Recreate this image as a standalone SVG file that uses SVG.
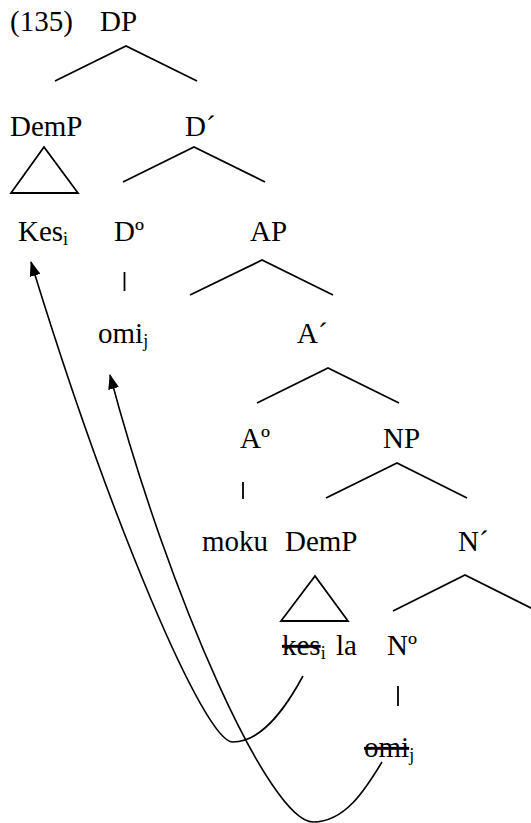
<svg xmlns="http://www.w3.org/2000/svg" width="531" height="823" viewBox="0 0 531 823">
  <style>
    text { font-family: "Liberation Serif", "DejaVu Serif", "Times New Roman", serif; font-size: 29px; fill: #000; }
    .sub { font-size: 18px; }
    .del { text-decoration: line-through; }
    .branch { fill: none; stroke: #000; stroke-width: 1.8; stroke-linejoin: miter; }
    .move { fill: none; stroke: #000; stroke-width: 1.6; }
  </style>
  <defs>
    <marker id="arrow" viewBox="0 0 15 11" refX="14" refY="5.5" markerWidth="15" markerHeight="11" markerUnits="userSpaceOnUse" orient="auto">
      <path d="M0,0 L15,5.5 L0,11 Z" fill="#000"/>
    </marker>
  </defs>

  <text x="10" y="31">(135)</text>

  <g id="dp">
    <text x="100" y="31">DP</text>
  </g>
  <g id="demp-top">
    <text x="10" y="136">DemP</text>
    <polygon class="branch" points="44,147 11,193 78,193"/>
  </g>
  <g id="dbar">
    <text x="185" y="136">D´</text>
  </g>
  <g id="kes">
    <text x="18" y="241">Kes<tspan class="sub" dy="4">i</tspan></text>
  </g>
  <g id="d-head">
    <text x="114" y="241">Dº</text>
  </g>
  <g id="ap">
    <text x="250" y="241">AP</text>
  </g>
  <g id="omi">
    <text x="98" y="343">omi<tspan class="sub" dy="4">j</tspan></text>
  </g>
  <g id="abar">
    <text x="297" y="343">A´</text>
  </g>
  <g id="a-head">
    <text x="240" y="448">Aº</text>
  </g>
  <g id="np">
    <text x="383" y="448">NP</text>
  </g>
  <g id="moku">
    <text x="202" y="551">moku</text>
  </g>
  <g id="demp-low">
    <text x="285" y="551">DemP</text>
    <polygon class="branch" points="315,576 281,621 348,621"/>
  </g>
  <g id="nbar">
    <text x="458" y="551">N´</text>
  </g>
  <g id="kes-la">
    <text x="282" y="655"><tspan class="del">kes</tspan><tspan class="sub" dy="4">i</tspan><tspan x="336" dy="-4">la</tspan></text>
  </g>
  <g id="n-head">
    <text x="387" y="655">Nº</text>
  </g>
  <g id="omi-trace">
    <text x="364" y="757"><tspan class="del">omi</tspan><tspan class="sub" dy="4">j</tspan></text>
  </g>

  <g id="connectors">
    <!-- branches -->
    <polyline class="branch" points="55,81 126,46 197,81"/>
    <polyline class="branch" points="123,182 194,147 265,182"/>
    <polyline class="branch" points="190,295 262,260 333,295"/>
    <polyline class="branch" points="257,403 328,368 399,403"/>
    <polyline class="branch" points="326,498 397,463 467,498"/>
    <polyline class="branch" points="393,611 465,575 537,611"/>
    <line class="branch" x1="124.5" y1="272" x2="124.5" y2="291"/>
    <line class="branch" x1="243" y1="482" x2="243" y2="499"/>
    <line class="branch" x1="398" y1="686" x2="398" y2="706"/>
    <!-- movement arrows -->
    <path class="move" marker-end="url(#arrow)" d="M303,676 C290,700 265,742 233,742 C205,744 110,520 31,262"/>
    <path class="move" marker-end="url(#arrow)" d="M382,762 C365,790 345,822 313,822 C270,822 170,600 110,375"/>
  </g>
</svg>
